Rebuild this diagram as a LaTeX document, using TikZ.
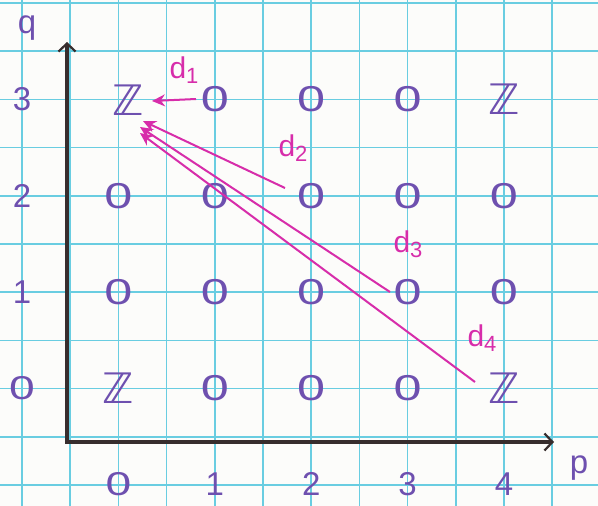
\documentclass[tikz,border=0pt]{standalone}
\usepackage{fontspec}
\setmainfont{Liberation Sans}
\newfontfamily\dvs{DejaVu Sans}
\usetikzlibrary{arrows.meta}
\definecolor{paper}{RGB}{252,252,250}
\definecolor{gridc}{RGB}{105,205,225}
\definecolor{ink}{RGB}{110,80,175}
\definecolor{pinkc}{RGB}{215,45,170}
\definecolor{axc}{RGB}{55,45,45}
\newcommand\zro{\scalebox{1.4}[1]{0}}
\newcommand\zz{{\dvs\fontsize{42}{42}\selectfont ℤ}}
\newcommand\dd[1]{d\raisebox{-5pt}{\fontsize{22}{22}\selectfont#1}}
\tikzset{
 entry/.style={text=ink, font=\fontsize{36}{36}\selectfont, inner sep=1pt},
 lab/.style={text=ink, font=\fontsize{33}{33}\selectfont, inner sep=1pt},
 dlab/.style={text=pinkc, font=\fontsize{30}{30}\selectfont, inner sep=1pt},
 diff/.style={draw=pinkc, line width=2pt, -{Stealth[length=13pt,width=12pt]}},
 axis/.style={draw=axc, line width=3.4pt, line join=miter,
   {Straight Barb[length=8pt,width=17pt,line width=2.2pt]}-{Straight Barb[length=8pt,width=17pt,line width=2.2pt]}},
 gridline/.style={draw=gridc, line width=1.5pt}
}
\begin{document}
\begin{tikzpicture}[x=1pt,y=-1pt]
\useasboundingbox (0,0) rectangle (598,506);
\fill[paper] (0,0) rectangle (598,506);
% graph paper
\foreach \i in {0,...,12} \draw[gridline] ({22+48.2*\i},0) -- ({22+48.2*\i},506);
\foreach \j in {0,...,10} \draw[gridline] (0,{3+48.2*\j}) -- (598,{3+48.2*\j});
% axes
\coordinate (orig) at (67,442);
\coordinate (qend) at (67,42);
\coordinate (pend) at (554,442);
\draw[axis] (qend) -- (orig) -- (pend);
\node[lab] (qlab) at (27,28) {q};
\node[lab] (plab) at (579,468) {p};
% tick labels
\foreach \q in {0,...,3} \node[lab] (ql\q) at (22,{388.6-96.4*\q}) {\ifnum\q=0 \zro\else\q\fi};
\foreach \p in {0,...,4} \node[lab] (pl\p) at ({118.4+96.4*\p},484) {\ifnum\p=0 \zro\else\p\fi};
% entries
\foreach \p/\q/\t in {0/0/\zz,1/0/\zro,2/0/\zro,3/0/\zro,4/0/\zz,
  0/1/\zro,1/1/\zro,2/1/\zro,3/1/\zro,4/1/\zro,
  0/2/\zro,1/2/\zro,2/2/\zro,3/2/\zro,4/2/\zro,
  1/3/\zro,2/3/\zro,3/3/\zro,4/3/\zz}
  \node[entry] (e\p\q) at ({118.4+96.4*\p},{388.6-96.4*\q}) {\t};
\node[entry] (e03) at (128,100) {\zz};
% differentials
\coordinate (t1) at (196,99);  \coordinate (h1) at (152,101);
\coordinate (t2) at (285,188); \coordinate (h2) at (143,121);
\coordinate (t3) at (390,292); \coordinate (h3) at (140,127);
\coordinate (t4) at (475,382); \coordinate (h4) at (140,133);
\draw[diff] (t1) -- (h1);
\draw[diff] (t2) -- (h2);
\draw[diff] (t3) -- (h3);
\draw[diff] (t4) -- (h4);
\node[dlab] (d1) at (184,70) {\dd{1}};
\node[dlab] (d2) at (293,148) {\dd{2}};
\node[dlab] (d3) at (408,244) {\dd{3}};
\node[dlab] (d4) at (482,338) {\dd{4}};
\end{tikzpicture}
\end{document}
